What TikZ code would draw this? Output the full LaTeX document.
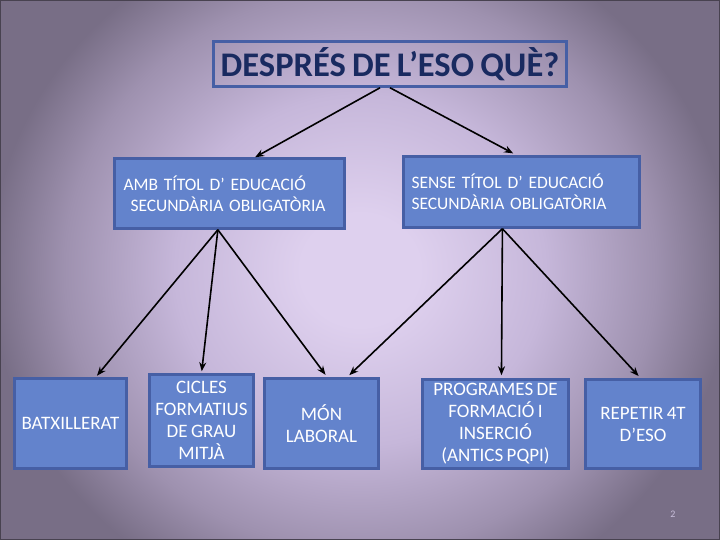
\documentclass[tikz,border=0pt]{standalone}
\usepackage{fontspec}
\setmainfont{Carlito}[WordSpace=0.8]
\usetikzlibrary{calc,arrows.meta}
\definecolor{bgin}{RGB}{222,208,238}
\definecolor{bgmid}{RGB}{198,183,218}
\definecolor{bgmid2}{RGB}{158,145,175}
\definecolor{bgout}{RGB}{120,110,134}
\definecolor{boxfill}{RGB}{99,131,204}
\definecolor{boxline}{RGB}{70,95,165}
\definecolor{titlecol}{RGB}{25,42,96}
\definecolor{framecol}{RGB}{72,66,80}
\definecolor{pagenum}{RGB}{200,190,218}
\pgfdeclareradialshading{bgshade}{\pgfpoint{0bp}{0bp}}{color(0bp)=(bgin); color(4bp)=(bgin); color(12.5bp)=(bgmid); color(20bp)=(bgmid2); color(25bp)=(bgout); color(50bp)=(bgout)}
\begin{document}
\begin{tikzpicture}[x=1pt,y=-1pt,
  box/.style={draw=boxline, line width=2.5pt, fill=boxfill, text=white, inner sep=0pt, align=center, font=\fontsize{19}{22}\selectfont},
  midbox/.style={box, align=left, font=\fontsize{17.5}{21}\selectfont},
  arr/.style={-{Stealth[length=9pt,width=7pt]}, line width=1.6pt, black}]
\useasboundingbox (0,0) rectangle (720,540);
\begin{scope}
\clip (0,0) rectangle (720,540);
\shade[shading=bgshade] (-10,-80) rectangle (730,620);
\end{scope}
\draw[framecol, line width=2pt] (0,0) rectangle (720,540);

\node[draw=boxline, line width=2.5pt, minimum width=353pt, minimum height=45pt, inner sep=0pt, text=titlecol, font=\fontsize{34.5}{38}\selectfont\bfseries] (title) at (390,64) {DESPRÉS DE L’ESO QUÈ?};

\node[midbox, minimum width=230pt, minimum height=70pt, text width=212pt] (amb) at (229.5,193.5) {AMB TÍTOL D’ EDUCACIÓ\\\hspace*{7pt}SECUNDÀRIA OBLIGATÒRIA};
\node[midbox, minimum width=236pt, minimum height=71pt, text width=220pt] (sense) at (521.5,192) {SENSE TÍTOL D’ EDUCACIÓ\\SECUNDÀRIA OBLIGATÒRIA};

\node[box, minimum width=112pt, minimum height=90pt] (batx) at (70.5,423.5) {BATXILLERAT};
\node[box, minimum width=104pt, minimum height=92pt] (cicles) at (201.5,420.5) {CICLES\\FORMATIUS\\DE GRAU\\MITJÀ};
\node[box, minimum width=114pt, minimum height=90pt] (mon) at (321.5,423.5) {MÓN\\LABORAL};
\node[box, minimum width=146pt, minimum height=89pt] (prog) at (495.5,424) {PROGRAMES DE\\FORMACIÓ I\\INSERCIÓ\\(ANTICS PQPI)};
\node[box, minimum width=115pt, minimum height=89pt] (rep) at (643,424) {REPETIR 4T\\D’ESO};

\node[text=pagenum, font=\fontsize{10}{12}\selectfont] (pg) at (673,514) {2};

\draw[arr] ($(title.south west)!0.472!(title.south east)$) -- ($(amb.north west)!0.61!(amb.north east)$);
\draw[arr, shorten >=4pt] ($(title.south west)!0.5!(title.south east)$) -- ($(sense.north west)!0.48!(sense.north east)$);

\draw[arr, shorten >=2pt] ($(amb.south west)!0.45!(amb.south east)$) -- ($(batx.north west)!0.72!(batx.north east)$);
\draw[arr, shorten >=2pt] ($(amb.south west)!0.45!(amb.south east)$) -- ($(cicles.north west)!0.5!(cicles.north east)$);
\draw[arr, shorten >=3pt] ($(amb.south west)!0.45!(amb.south east)$) -- ($(mon.north west)!0.55!(mon.north east)$);

\draw[arr, shorten >=3pt] ($(sense.south west)!0.42!(sense.south east)$) -- ($(mon.north west)!0.72!(mon.north east)$);
\draw[arr, shorten >=3pt] ($(sense.south west)!0.42!(sense.south east)$) -- ($(prog.north west)!0.54!(prog.north east)$);
\draw[arr, shorten >=3pt] ($(sense.south west)!0.42!(sense.south east)$) -- ($(rep.north west)!0.48!(rep.north east)$);
\end{tikzpicture}
\end{document}
